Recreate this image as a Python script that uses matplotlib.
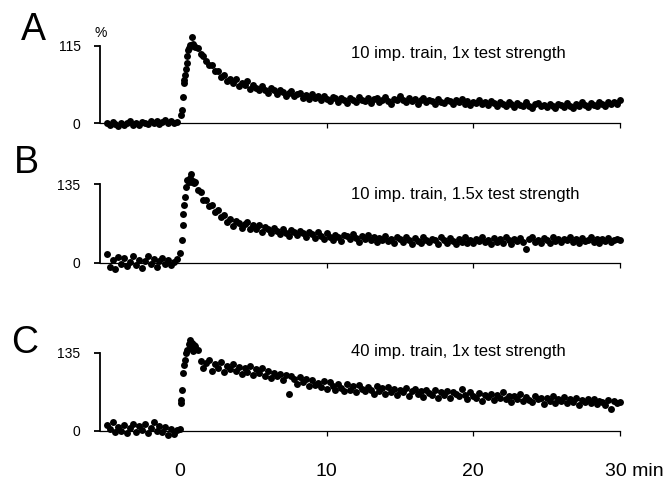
import numpy as np
import matplotlib.pyplot as plt

plt.rcParams['font.family'] = ['Liberation Sans', 'DejaVu Sans']

# sampling times (min)
t_base = np.round(np.arange(-5.0, -0.1, 0.2), 2)     # 25 points before the train
t_plat = np.round(np.arange(1.0, 30.01, 0.2), 2)     # 146 points after the peak

# --- panel A: 10 imp. train, 1x test strength
a_base = [0, -3, 2, -1, -4, 1, -2, 0, 3, -2, 1, -3, 2, 0, -1, 3, 1, 4, -1, 2, 5, 0, 3, 1, 2]
a_rise_t = [0.08, 0.11, 0.18, 0.25, 0.29, 0.33, 0.41, 0.45, 0.5, 0.57, 0.64, 0.7, 0.8, 0.86, 0.93]
a_rise = [12, 19, 39, 59, 64, 71, 81, 90, 100, 108, 112, 116, 128, 118, 114]
a_plat = [113, 112, 103, 99, 92, 87, 86, 77, 78, 69, 72, 63, 66, 59, 65,
          55, 60, 57, 62, 51, 57, 53, 49, 56, 50, 45, 52, 49, 44, 50,
          47, 41, 45, 48, 40, 43, 45, 38, 42, 36, 43, 37, 40, 35, 41,
          36, 33, 39, 37, 32, 38, 34, 30, 37, 35, 31, 39, 35, 33, 37,
          30, 36, 38, 32, 35, 39, 33, 29, 36, 34, 40, 35, 31, 38, 33,
          36, 29, 34, 37, 31, 35, 33, 28, 36, 32, 30, 35, 33, 28, 34,
          31, 36, 29, 33, 27, 32, 30, 34, 28, 31, 27, 33, 30, 25, 31,
          29, 26, 32, 28, 24, 30, 27, 25, 31, 26, 23, 28, 30, 25, 27,
          24, 29, 26, 22, 28, 27, 24, 30, 26, 23, 29, 26, 31, 27, 24,
          30, 27, 25, 31, 28, 26, 32, 29, 31, 28, 34]

# --- panel B: 10 imp. train, 1.5x test strength
b_base = [15, -8, 4, -12, 9, -3, 7, -6, 1, 11, -4, 5, -9, 3, 12, -2, 6, -7, 2, 8, -3, 4, -5, 1, 6]
b_rise_t = [0.02, 0.11, 0.18, 0.23, 0.27, 0.34, 0.41, 0.5, 0.58, 0.66, 0.73, 0.8, 0.88, 0.95]
b_rise = [16, 38, 64, 84, 99, 113, 130, 142, 138, 146, 153, 138, 141, 136]
b_plat = [138, 124, 121, 108, 107, 97, 99, 86, 90, 79, 82, 69, 75, 63, 71,
          68, 60, 66, 70, 58, 64, 57, 65, 53, 61, 58, 50, 60, 54, 49,
          57, 51, 46, 56, 52, 47, 55, 50, 44, 53, 49, 42, 52, 46, 41,
          50, 44, 39, 48, 43, 37, 47, 45, 40, 49, 42, 36, 46, 41, 47,
          38, 44, 35, 42, 39, 45, 37, 41, 33, 43, 40, 35, 44, 38, 32,
          42, 37, 34, 43, 39, 35, 41, 38, 32, 44, 39, 34, 42, 37, 31,
          40, 36, 43, 34, 38, 33, 41, 37, 44, 35, 39, 32, 42, 36, 40,
          34, 43, 38, 31, 41, 37, 42, 35, 24, 40, 43, 36, 39, 33, 42,
          38, 34, 44, 37, 40, 35, 41, 38, 43, 36, 40, 33, 42, 37, 39,
          43, 36, 40, 34, 41, 37, 42, 35, 39, 41, 38]

# --- panel C: 40 imp. train, 1x test strength
c_base = [10, 2, 14, -3, 6, 0, 9, -5, 4, 12, -2, 7, 1, 11, -4, 5, 15, 0, 8, -3, 6, -7, 3, -6, 1]
c_rise_t = [0.0, 0.06, 0.08, 0.15, 0.22, 0.27, 0.33, 0.41, 0.5, 0.58, 0.66, 0.74, 0.82, 0.9, 0.96]
c_rise = [2, 47, 53, 70, 99, 114, 122, 134, 140, 150, 157, 144, 152, 138, 148]
c_plat = [146, 139, 120, 108, 117, 122, 104, 116, 109, 119, 101, 112, 106, 115, 103,
          110, 98, 108, 101, 112, 96, 106, 99, 109, 94, 103, 91, 100, 95, 98,
          87, 97, 64, 95, 90, 80, 92, 84, 89, 78, 87, 79, 83, 75, 86,
          72, 84, 77, 70, 81, 74, 68, 80, 71, 77, 66, 79, 72, 68, 76,
          70, 64, 77, 69, 73, 63, 75, 67, 72, 61, 70, 66, 74, 60, 68,
          72, 63, 69, 58, 71, 65, 61, 70, 57, 67, 62, 69, 56, 66, 63,
          59, 72, 61, 55, 66, 60, 57, 65, 52, 62, 58, 64, 53, 61, 56,
          66, 54, 60, 50, 59, 55, 63, 51, 58, 53, 49, 60, 54, 57, 46,
          56, 51, 59, 48, 55, 52, 58, 47, 54, 50, 56, 45, 53, 49, 55,
          48, 54, 46, 52, 50, 44, 53, 37, 51, 47, 50]

x_ticks = [0, 10, 20, 30]
x_labels = ['0', '10', '20', '30 min']

panels = [
    ('A', a_base, a_rise_t, a_rise, a_plat, 115, '10 imp. train, 1x test strength'),
    ('B', b_base, b_rise_t, b_rise, b_plat, 135, '10 imp. train, 1.5x test strength'),
    ('C', c_base, c_rise_t, c_rise, c_plat, 135, '40 imp. train, 1x test strength'),
]

# layout in pixels of the 665x480 figure
W, H = 665.0, 480.0
X0, XS = 180.0, 440.0 / 30
XLIM = (-5.45, 31.5)
zero_px = [123.3, 262.5, 430.5]
top_px = [45.7, 184.0, 352.7]
ylims = [(-20, 140), (-25, 160), (-20, 165)]
letter_xy = [(33, 30), (26, 163), (25, 343)]
note_px = [54, 194, 351]
label_top_px = 462.5

fig = plt.figure(figsize=(6.65, 4.8), dpi=100)

for i, (letter, base, rise_t, rise, plat, top, note) in enumerate(panels):
    ax = fig.add_axes([0, 0, 1, 1])
    ax.patch.set_visible(False)
    lo, hi = ylims[i]
    s = (zero_px[i] - top_px[i]) / top
    bot = zero_px[i] - lo * s
    tp = zero_px[i] - hi * s
    left = X0 + XLIM[0] * XS
    right = X0 + XLIM[1] * XS
    ax.set_position([left / W, 1 - bot / H, (right - left) / W, (bot - tp) / H])
    ax.set_xlim(*XLIM)
    ax.set_ylim(lo, hi)

    t = np.concatenate([t_base, rise_t, t_plat])
    v = np.concatenate([base, rise, plat])
    ax.plot(t, v, 'o', color='black', markersize=5.0, markeredgewidth=0, zorder=3)

    for side in ('top', 'right'):
        ax.spines[side].set_visible(False)
    ax.spines['left'].set_bounds(0, top)
    ax.spines['left'].set_linewidth(1.3)
    ax.spines['bottom'].set_position(('data', 0))
    ax.spines['bottom'].set_bounds(XLIM[0], 30)
    ax.spines['bottom'].set_linewidth(0.9)

    ax.set_yticks([0, top])
    ax.set_yticklabels(['0', str(top)])
    ax.tick_params(axis='y', length=4, width=1.3, pad=10, labelsize=10)

    ax.set_xticks(x_ticks)
    ax.set_xticklabels([])
    ax.tick_params(axis='x', length=3.5, width=0.9, direction='out')
    ax.xaxis.get_major_ticks()[0].tick1line.set_visible(False)
    if letter == 'C':
        for xt, lab in zip(x_ticks, x_labels):
            if lab.endswith('min'):
                ax.text(xt - 1.02, (zero_px[i] - label_top_px) / s, lab, fontsize=14,
                        ha='left', va='top', clip_on=False)
            else:
                ax.text(xt, (zero_px[i] - label_top_px) / s, lab, fontsize=14,
                        ha='center', va='top', clip_on=False)

    ax.text(11.66, (zero_px[i] - note_px[i]) / s, note, fontsize=12,
            ha='left', va='center')
    if letter == 'A':
        ax.text(-5.4, (zero_px[i] - 33) / s, '%', fontsize=10, ha='center', va='center')

    fig.text(letter_xy[i][0] / W, 1 - letter_xy[i][1] / H, letter, fontsize=27,
             ha='center', va='center')

fig.savefig('out.png', dpi=100)
